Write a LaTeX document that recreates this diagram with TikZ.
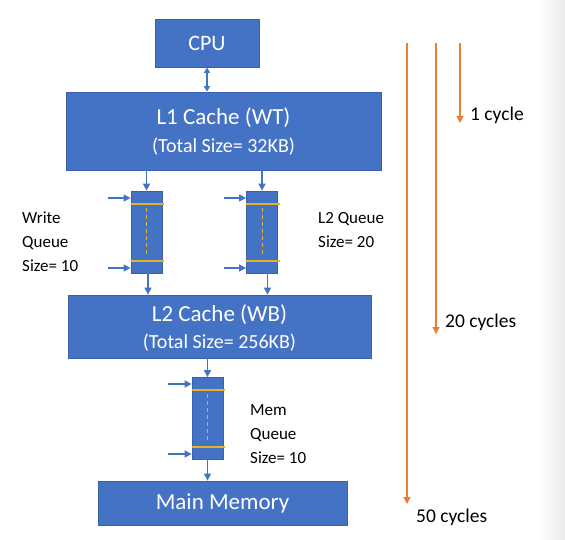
\documentclass[tikz,border=0pt]{standalone}
\usepackage{fontspec}
\setmainfont{Carlito}
\usetikzlibrary{arrows.meta}
\definecolor{obox}{HTML}{4472C4}
\definecolor{oedge}{HTML}{3A62AA}
\definecolor{oorange}{HTML}{ED7D31}
\definecolor{ogold}{HTML}{E5B02A}
\begin{document}
\begin{tikzpicture}[x=1pt,y=-1pt,
  box/.style={draw=oedge,line width=0.8pt,fill=obox,inner sep=0pt},
  btxt/.style={text=white,inner sep=0pt,anchor=base},
  big/.style={font=\fontsize{23}{27}\selectfont},
  small/.style={font=\fontsize{20}{24}\selectfont},
  queue/.style={draw=oedge,line width=0.8pt,fill=obox,inner sep=0pt,minimum width=31pt,minimum height=82pt},
  arr/.style={draw=obox,line width=1.4pt,-{Triangle[length=7pt,width=7pt]}},
  darr/.style={draw=obox,line width=1.3pt,{Triangle[length=5.5pt,width=6pt]}-{Triangle[length=5.5pt,width=6pt]}},
  oarr/.style={draw=oorange,line width=1.3pt,-{Triangle[length=7pt,width=7pt]}},
  lbl/.style={font=\fontsize{17}{24}\selectfont,align=left,inner sep=0pt,anchor=north west},
  clbl/.style={font=\fontsize{19.5}{24}\selectfont,inner sep=0pt,anchor=west}
]
\useasboundingbox (0,0) rectangle (565,540);
\shade[left color=white,right color=black!8] (540,0) rectangle (565,540);

% boxes
\node[box,minimum width=104pt,minimum height=48pt] (cpu) at (207,43) {};
\node[box,minimum width=315pt,minimum height=78pt] (l1) at (223.5,131) {};
\node[box,minimum width=303pt,minimum height=63pt] (l2) at (219.5,326.5) {};
\node[box,minimum width=249pt,minimum height=44pt] (mm) at (222.5,503) {};

\node[btxt,font=\fontsize{22}{26}\selectfont] (cput) at (207,51) {CPU};
\node[btxt,big] (l1a) at (223.5,125) {L1 Cache (WT)};
\node[btxt,small] (l1b) at (223.5,153) {(Total Size= 32KB)};
\node[btxt,big] (l2a) at (219.5,321) {L2 Cache (WB)};
\node[btxt,small] (l2b) at (219.5,348) {(Total Size= 256KB)};
\node[btxt,big] (mmt) at (222.5,509) {Main Memory};

% queues
\node[queue] (lq) at (146.5,232) {};
\node[queue] (rq) at (262,232) {};
\node[queue] (mq) at (207.5,418.5) {};
\foreach \q/\s in {lq/0.5,rq/0.5,mq/0}{
  \draw[ogold,line width=1.3pt] ([yshift=-13pt-\s pt]\q.north west) -- ([yshift=-13pt-\s pt,xshift=2pt]\q.north east);
  \draw[ogold,line width=1.3pt] ([yshift=13pt-\s pt]\q.south west) -- ([yshift=13pt-\s pt,xshift=2pt]\q.south east);
  \draw[ogold,line width=1pt,dash pattern=on 4pt off 3pt] ([yshift=-17pt]\q.north) -- ([yshift=17pt]\q.south);
}

% connectors
\draw[darr] (cpu.south) -- (cpu.south |- l1.north);
\draw[arr] (lq.north |- l1.south) -- (lq.north);
\draw[arr] (rq.north |- l1.south) -- (rq.north);
\draw[arr] ([xshift=1.5pt]lq.south) -- ([xshift=1.5pt]lq.south |- l2.north);
\draw[arr] ([xshift=5.5pt]rq.south) -- ([xshift=5.5pt]rq.south |- l2.north);
\draw[arr] (mq.north |- l2.south) -- (mq.north);
\draw[arr] (mq.south) -- (mq.south |- mm.north);

% side inputs
\coordinate (la) at (108,198); \coordinate (lb) at (108,268);
\coordinate (ra) at (224,198); \coordinate (rb) at (224,268);
\coordinate (ma) at (168,384); \coordinate (mb) at (168,454);
\draw[arr] (la) -- (la -| lq.west);
\draw[arr] (lb) -- (lb -| lq.west);
\draw[arr] (ra) -- (ra -| rq.west);
\draw[arr] (rb) -- (rb -| rq.west);
\draw[arr] (ma) -- (ma -| mq.west);
\draw[arr] (mb) -- (mb -| mq.west);

% labels
\node[lbl] (wql) at (22,212) {Write\\Queue\\Size= 10};
\node[lbl] (l2ql) at (318,212) {L2 Queue\\Size= 20};
\node[lbl] (mql) at (250,404) {Mem\\Queue\\Size= 10};

% timing arrows
\coordinate (t1) at (460,43); \coordinate (e1) at (460,123);
\coordinate (t2) at (436,43); \coordinate (e2) at (436,334);
\coordinate (t3) at (407,43); \coordinate (e3) at (407,504);
\draw[oarr] (t1) -- (e1);
\draw[oarr] (t2) -- (e2);
\draw[oarr] (t3) -- (e3);
\node[clbl] (c1) at (470,115) {1 cycle};
\node[clbl] (c2) at (445,322) {20 cycles};
\node[clbl] (c3) at (416,517) {50 cycles};
\end{tikzpicture}
\end{document}
